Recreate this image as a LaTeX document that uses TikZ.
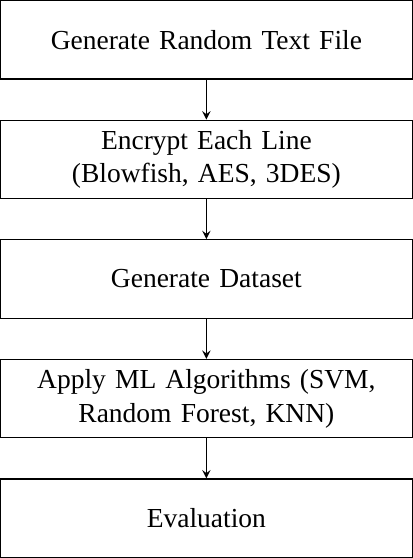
\documentclass[tikz,border=0pt]{standalone}
\usepackage{fontspec}
\setmainfont{Liberation Serif}
\usetikzlibrary{arrows,positioning}

\begin{document}
\begin{tikzpicture}[
	stage/.style={draw, rectangle, align=center, text width=150pt, inner xsep=2.1pt, minimum height=29.4pt, font=\fontsize{10.3pt}{12.6pt}\selectfont},
	flow/.style={-stealth}
	]
		\node[stage] (gen) {Generate Random Text File};
		\node[stage, below=15pt of gen] (enc) {Encrypt Each Line\\(Blowfish, AES, 3DES)};
		\node[stage, below=15pt of enc] (data) {Generate Dataset};
		\node[stage, below=15pt of data] (ml) {Apply ML Algorithms (SVM,\\Random Forest, KNN)};
		\node[stage, below=15pt of ml] (eval) {Evaluation};
		\draw[flow] (gen) -- (enc);
		\draw[flow] (enc) -- (data);
		\draw[flow] (data) -- (ml);
		\draw[flow] (ml) -- (eval);
		\end{tikzpicture}
\end{document}
